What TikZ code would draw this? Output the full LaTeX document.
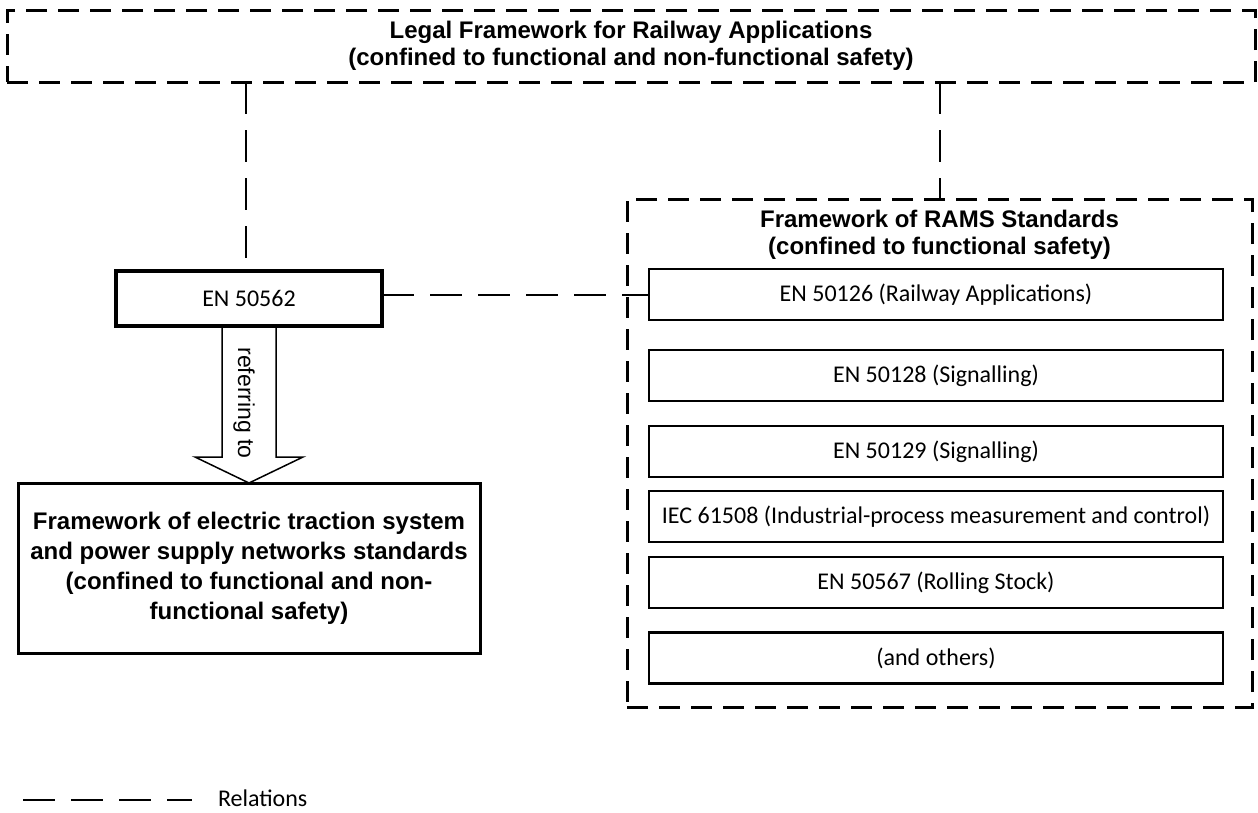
\documentclass[tikz,border=0pt]{standalone}
\usepackage{fontspec}
\setmainfont{Carlito}
\newfontfamily\arialf{Liberation Sans}
\usetikzlibrary{calc}
\begin{document}
\begin{tikzpicture}[x=1pt,y=-1pt,
  every node/.style={inner sep=0pt, outer sep=0pt},
  dbox/.style={draw, line width=3pt, dash pattern=on 21pt off 11pt},
  sbox/.style={draw, line width=2.5pt, minimum width=574pt, minimum height=51pt,
     font=\fontsize{24}{28}\selectfont},
  ttl/.style={align=center, font=\arialf\bfseries\fontsize{24}{27.5}\selectfont},
  rel/.style={line width=2pt, dash pattern=on 32pt off 16pt},
  blockarrow/.style={draw, line width=1.5pt, line join=miter},
]
\useasboundingbox (0,0) rectangle (1258,812);
\fill[white] (0,0) rectangle (1258,812);

% top legal framework box
\node[dbox, minimum width=1248pt, minimum height=72pt] (legal) at (631,46) {};
\node[ttl] (legalt) at (631,46) {Legal Framework for Railway Applications\\(confined to functional and non-functional safety)};

% EN 50562
\node[draw, line width=3.5pt, minimum width=266pt, minimum height=55pt,
      font=\fontsize{24}{28}\selectfont] (en) at (249,298.5) {EN 50562};

% left framework box
\node[draw, line width=3pt, minimum width=462pt, minimum height=170pt,
      align=center, font=\arialf\bfseries\fontsize{24}{30}\selectfont] (trac) at (249,568)
  {Framework of electric traction system\\and power supply networks standards\\(confined to functional and non-\\functional safety)};

% RAMS box
\node[dbox, minimum width=625pt, minimum height=508pt] (rams) at (939.5,453) {};
\node[ttl] (ramst) at (939.5,235) {Framework of RAMS Standards\\(confined to functional safety)};

\node[sbox] (r1) at (936,294.5) {EN 50126 (Railway Applications)};
\node[sbox] (r2) at (936,375.5) {EN 50128 (Signalling)};
\node[sbox] (r3) at (936,451.5) {EN 50129 (Signalling)};
\node[sbox] (r4) at (936,516.5) {IEC 61508 (Industrial-process measurement and control)};
\node[sbox] (r5) at (936,582.5) {EN 50567 (Rolling Stock)};
\node[sbox] (r6) at (936,658) {(and others)};

% relations
\draw[rel] (legal.south -| 246,0) -- (en.north -| 246,0);
\draw[rel] (legal.south -| rams.north) -- (rams.north);
\draw[rel] (en.east |- r1.west) -- (r1.west);

% block arrow "referring to"
\draw[blockarrow] ($(en.south)+(-27,1.75)$) -- ($(trac.north)+(-27,-26)$)
  -- ($(trac.north)+(-54,-26)$) -- (trac.north)
  -- ($(trac.north)+(54,-26)$) -- ($(trac.north)+(27,-26)$)
  -- ($(en.south)+(27,1.75)$);
\node[rotate=-90, font=\arialf\fontsize{23}{26}\selectfont] (refl) at (244,403) {referring to};

% legend
\coordinate (lg1) at (23,800);
\coordinate (lg2) at (192,800);
\draw[rel] (lg1) -- (lg2);
\node[anchor=west, font=\fontsize{24}{28}\selectfont] (lgt) at (218,798) {Relations};
\end{tikzpicture}
\end{document}
